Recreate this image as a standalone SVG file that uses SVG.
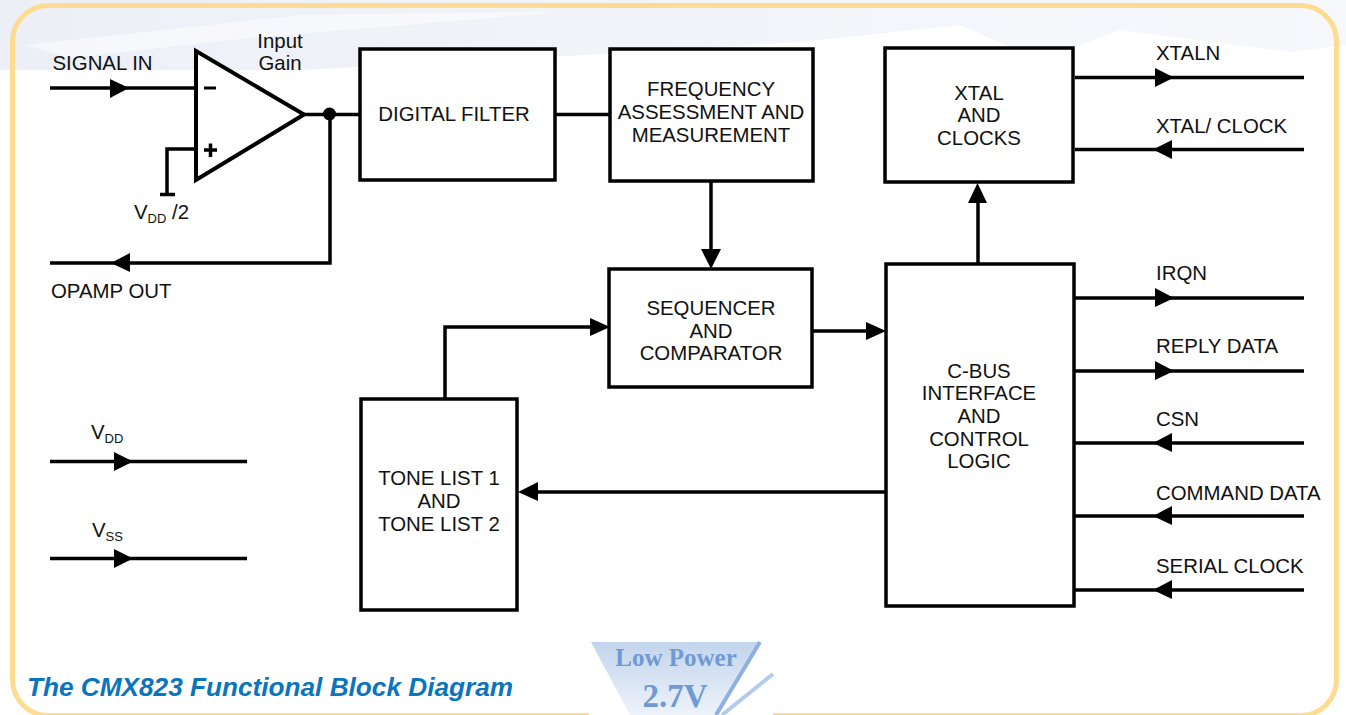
<svg xmlns="http://www.w3.org/2000/svg" width="1346" height="715" viewBox="0 0 1346 715">
<style>
text{font-family:"Liberation Sans",Arial,sans-serif;font-size:20.4px;fill:#111}
.m{text-anchor:middle}
.box{fill:#fff;stroke:#000;stroke-width:3.5}
.w{fill:none;stroke:#000;stroke-width:3.5}
.t{font-size:13px}
</style>
<defs>
<linearGradient id="badge" x1="0" y1="0" x2="0" y2="1"><stop offset="0" stop-color="#c2d4ec"/><stop offset="1" stop-color="#eef3fb"/></linearGradient>
<linearGradient id="wash" x1="0" y1="0" x2="1" y2="0"><stop offset="0" stop-color="#eceff6"/><stop offset=".5" stop-color="#f2f4f9"/><stop offset="1" stop-color="#f7f8fc"/></linearGradient>
</defs>
<rect width="1346" height="715" fill="#fff"/>
<g id="background">
<path d="M0 0H1346V45L1290 52L1120 30L1040 60L960 25L800 42L500 60L300 70H0Z" fill="url(#wash)"/>
<path d="M25 45L300 15L560 12L250 38L70 58Z" fill="#fff" opacity=".5"/>
<rect x="12.500" y="5.500" width="1324" height="710" rx="36" fill="none" stroke="#fddc92" stroke-width="5"/>
</g>
<g id="badge-low-power">
<rect x="589" y="640" width="184" height="75" fill="#fff"/>
<path d="M591 642H760L716 715H630Z" fill="url(#badge)"/>
<path d="M760 642L716 715" stroke="#8eb0e0" stroke-width="4" fill="none"/>
<path d="M773 674L722 715" stroke="#b5cbea" stroke-width="4" fill="none"/>
<text x="676" y="666" class="m" style="font-family:'Liberation Serif',serif;font-size:25px;font-weight:bold;fill:#6f9ad4">Low Power</text>
<text x="675" y="707" class="m" style="font-family:'Liberation Serif',serif;font-size:33px;font-weight:bold;fill:#6f9ad4">2.7V</text>
</g>
<g id="connectors">
<path class="w" d="M50 88H196"/>
<path class="w" d="M196 149H167V194"/>
<path class="w" d="M160 194.500H175"/>
<path class="w" d="M304 114.500H360"/>
<path class="w" d="M330 114V263H50"/>
<path class="w" d="M555 114.500H610"/>
<path class="w" d="M711 182V252"/>
<path class="w" d="M812 331H870"/>
<path class="w" d="M445 398V327H595"/>
<path class="w" d="M886 492H535"/>
<path class="w" d="M978 264V200"/>
<path class="w" d="M1075 77.500H1304"/>
<path class="w" d="M1075 149.500H1304"/>
<path class="w" d="M1075 298H1304"/>
<path class="w" d="M1075 371H1304"/>
<path class="w" d="M1075 443H1304"/>
<path class="w" d="M1075 516H1304"/>
<path class="w" d="M1075 590H1304"/>
<path class="w" d="M50 461.500H247"/>
<path class="w" d="M50 558.500H247"/>
<g fill="#000">
<path d="M110 79L129 88L110 98Z"/>
<path d="M130 253L111 263L130 272Z"/>
<path d="M1155 68L1174 77.500L1155 87Z"/>
<path d="M1172 140L1153 149.500L1172 159Z"/>
<path d="M1155 288L1174 298L1155 307Z"/>
<path d="M1155 361L1174 371L1155 380Z"/>
<path d="M1172 433L1153 443L1172 452Z"/>
<path d="M1172 506L1153 516L1172 525Z"/>
<path d="M1172 580L1153 590L1172 599Z"/>
<path d="M114 452L133 461.500L114 471Z"/>
<path d="M114 549L133 558.500L114 568Z"/>
<path d="M701 249H721L711 269Z"/>
<path d="M866 322L886 331L866 340Z"/>
<path d="M590 318L610 327L590 336Z"/>
<path d="M538 482L518 492L538 501Z"/>
<path d="M968 203L977.500 183L987 203Z"/>
<circle cx="329.500" cy="114" r="6.500"/>
</g>
</g>
<g id="opamp">
<path d="M196 51V180L304 114.500Z" fill="#fff" stroke="#000" stroke-width="4"/>
<path d="M204 88H216" stroke="#000" stroke-width="3"/>
<path d="M204 150H217M210.500 143.500V157" stroke="#000" stroke-width="3.500"/>
</g>
<g id="digital-filter"><rect class="box" x="360" y="49" width="195" height="131"/><text x="454" y="121" class="m">DIGITAL FILTER</text></g>
<g id="frequency"><rect class="box" x="610" y="49" width="203" height="132"/><text x="711" y="96" class="m">FREQUENCY</text><text x="711" y="119" class="m">ASSESSMENT AND</text><text x="711" y="142" class="m">MEASUREMENT</text></g>
<g id="xtal"><rect class="box" x="885" y="48" width="188" height="134"/><text x="979" y="100" class="m">XTAL</text><text x="979" y="122" class="m">AND</text><text x="979" y="145" class="m">CLOCKS</text></g>
<g id="sequencer"><rect class="box" x="609" y="269" width="203" height="118"/><text x="711" y="315" class="m">SEQUENCER</text><text x="711" y="338" class="m">AND</text><text x="711" y="360" class="m">COMPARATOR</text></g>
<g id="cbus"><rect class="box" x="886" y="264" width="188" height="342"/><text x="979" y="378" class="m">C-BUS</text><text x="979" y="400" class="m">INTERFACE</text><text x="979" y="423" class="m">AND</text><text x="979" y="446" class="m">CONTROL</text><text x="979" y="468" class="m">LOGIC</text></g>
<g id="tone-list"><rect class="box" x="361" y="399" width="156" height="211"/><text x="439" y="485" class="m">TONE LIST 1</text><text x="439" y="508" class="m">AND</text><text x="439" y="531" class="m">TONE LIST 2</text></g>
<g id="labels">
<text x="52.500" y="70">SIGNAL IN</text>
<text x="280" y="48" class="m">Input</text>
<text x="280" y="70" class="m">Gain</text>
<text x="134" y="219">V<tspan class="t" dy="4">DD</tspan><tspan dy="-4"> /2</tspan></text>
<text x="51" y="298">OPAMP OUT</text>
<text x="91" y="439">V<tspan class="t" dy="4">DD</tspan></text>
<text x="92" y="537">V<tspan class="t" dy="4">SS</tspan></text>
<text x="1156" y="60">XTALN</text>
<text x="1156" y="133">XTAL/ CLOCK</text>
<text x="1156" y="280">IRQN</text>
<text x="1156" y="353">REPLY DATA</text>
<text x="1156" y="426">CSN</text>
<text x="1156" y="500">COMMAND DATA</text>
<text x="1156" y="573">SERIAL CLOCK</text>
<text x="27" y="696" style="font-size:26.2px;font-weight:bold;font-style:italic;fill:#0a74bd">The CMX823 Functional Block Diagram</text>
</g>
</svg>
